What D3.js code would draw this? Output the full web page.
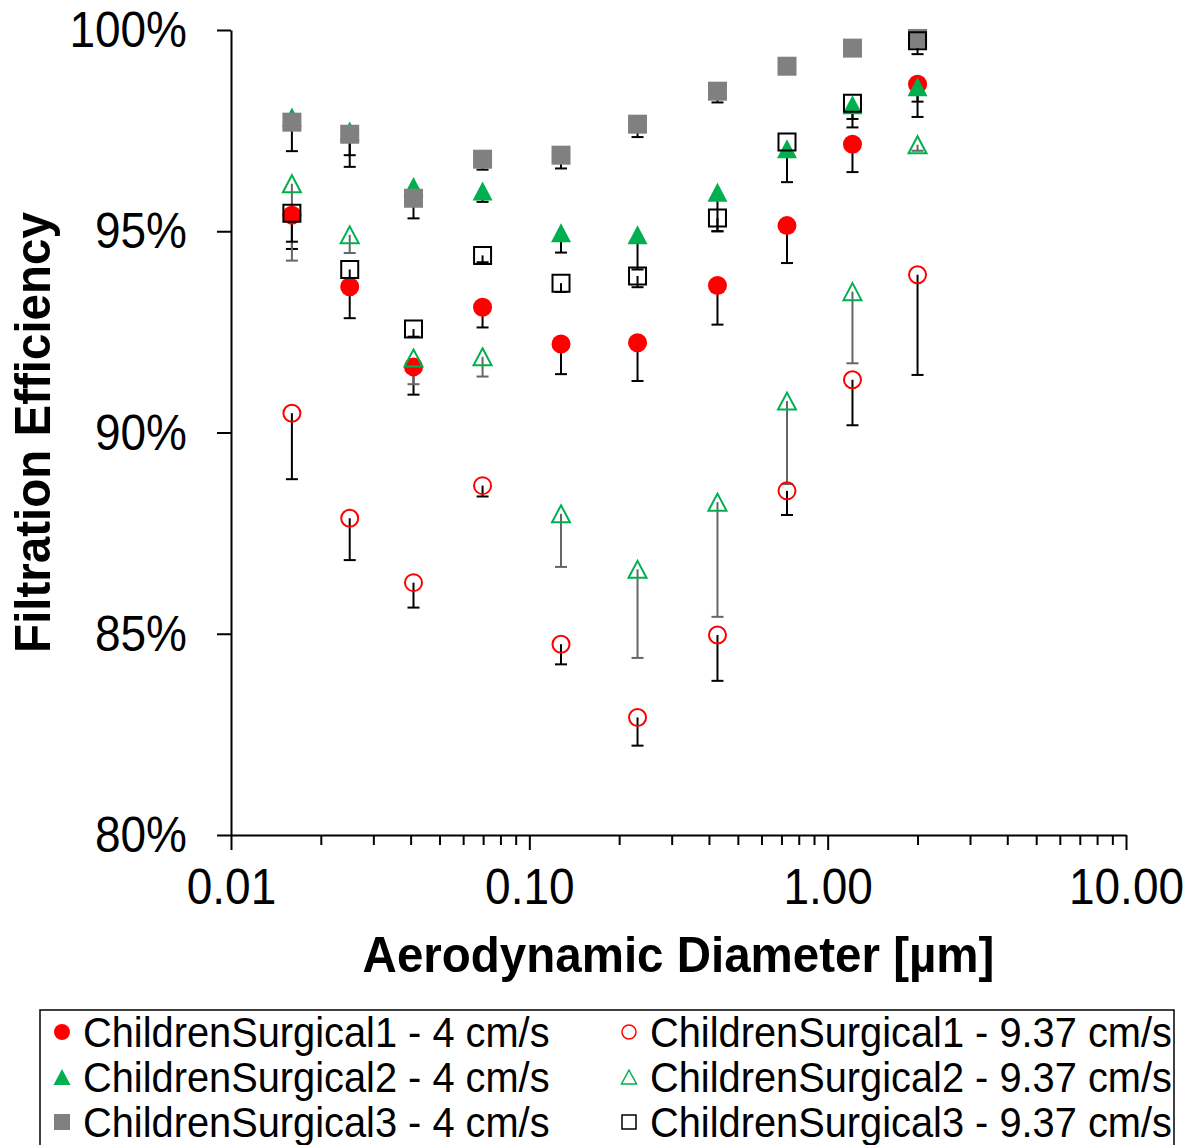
<!DOCTYPE html>
<html>
<head>
<meta charset="utf-8">
<script src="https://cdn.jsdelivr.net/npm/d3@7"></script>
<style>
    body { margin: 0; background: #fff; }
    text { font-family: 'Liberation Sans', Arial, sans-serif; }
</style>
</head>
<body>
<div id="graph"></div>
<script>
// ------- data --------

var diameters = [0.0160, 0.0250, 0.0409, 0.0697, 0.1277, 0.2305, 0.4272, 0.7306, 1.211, 2.001]

var cs1_4 = [95.40, 93.62, 91.63, 93.11, 92.20, 92.23, 93.65, 95.14, 97.16, 98.65]
var cs1_4_err = [0.84, 0.78, 0.69, 0.50, 0.75, 0.95, 0.97, 0.93, 0.69, 0.81]
var cs2_4 = [97.84, 97.49, 96.11, 96.00, 94.96, 94.91, 95.97, 97.05, 98.14, 98.59]
var cs2_4_err = [0.25, 0.60, 0.20, 0.27, 0.49, 0.86, 0.97, 0.83, 0.35, 0.37]
var cs3_4 = [97.71, 97.41, 95.82, 96.79, 96.89, 97.66, 98.48, 99.10, 99.55, 99.79]
var cs3_4_err = [0.72, 0.81, 0.50, 0.26, 0.33, 0.32, 0.28, 0.15, 0.10, 0.10]

var cs1_9 = [90.48, 87.87, 86.27, 88.68, 84.74, 82.92, 84.97, 88.55, 91.31, 93.92]
var cs1_9_err = [1.64, 1.04, 0.62, 0.27, 0.50, 0.70, 1.14, 0.60, 1.13, 2.49]
var cs2_9 = [96.18, 94.91, 91.85, 91.88, 87.98, 86.60, 88.27, 90.78, 93.50, 97.15]
var cs2_9_err = [1.91, 0.45, 0.65, 0.49, 1.32, 2.20, 2.85, 2.06, 1.78, 0.15]
var cs3_9 = [95.45, 94.05, 92.57, 94.40, 93.71, 93.89, 95.33, 97.22, 98.18, 99.73]
var cs3_9_err = [0.71, 0.30, 0.19, 0.17, 0.22, 0.28, 0.33, 0.25, 0.60, 0.33]

var yTicks = [80, 85, 90, 95, 100]
var xTicks = [0.01, 0.1, 1, 10]
var xTickLabels = ['0.01', '0.10', '1.00', '10.00']

var seriesNames = ['ChildrenSurgical1 - 4 cm/s', 'ChildrenSurgical2 - 4 cm/s', 'ChildrenSurgical3 - 4 cm/s',
    'ChildrenSurgical1 - 9.37 cm/s', 'ChildrenSurgical2 - 9.37 cm/s', 'ChildrenSurgical3 - 9.37 cm/s']

// series -> look (order = draw order)
var series = [
    {name: seriesNames[0], vals: cs1_4, err: cs1_4_err, shape: 'circle', fill: '#ff0000', stroke: 'none', bar: '#000'},
    {name: seriesNames[1], vals: cs2_4, err: cs2_4_err, shape: 'triangle', fill: '#00b050', stroke: 'none', bar: '#000'},
    {name: seriesNames[2], vals: cs3_4, err: cs3_4_err, shape: 'square', fill: '#808080', stroke: 'none', bar: '#000'},
    {name: seriesNames[3], vals: cs1_9, err: cs1_9_err, shape: 'circle', fill: 'none', stroke: '#ff0000', bar: '#000'},
    {name: seriesNames[4], vals: cs2_9, err: cs2_9_err, shape: 'triangle', fill: 'none', stroke: '#00b050', bar: '#666'},
    {name: seriesNames[5], vals: cs3_9, err: cs3_9_err, shape: 'square', fill: 'none', stroke: '#000', bar: '#000'}
]

// text in the original is a bit taller than plain Arial
var stretch = 1.07

// ------- svg --------

var width = 1197, height = 1145
var margin = {left: 231, right: 71, top: 30, bottom: 310}

var svg = d3.select('#graph').append('svg')
    .attr('width', width)
    .attr('height', height)

var x = d3.scaleLog()
    .domain([0.01, 10])
    .range([margin.left, width - margin.right])
var y = d3.scaleLinear()
    .domain([80, 100])
    .range([height - margin.bottom, margin.top])

function shapePath(shape, s) {
    var h = s / 2
    if (shape == 'circle') return d3.symbol().type(d3.symbolCircle).size(Math.PI * h * h)()
    if (shape == 'square') return 'M' + (-h) + ',' + (-h) + 'h' + s + 'v' + s + 'h' + (-s) + 'Z'
    return 'M0,' + (-h) + 'L' + (h + 0.5) + ',' + h + 'L' + (-h - 0.5) + ',' + h + 'Z'
}

// ------- axes --------

var yAxis = d3.axisLeft(y)
    .tickValues(yTicks)
    .tickSize(14)
    .tickSizeOuter(0)
    .tickPadding(30)
    .tickFormat(function(d) { return d + '%' })

var gy = svg.append('g')
    .attr('transform', 'translate(' + margin.left + ',0)')
    .call(yAxis)
gy.selectAll('text')
    .style('font-size', '46px')
    .attr('dy', '0.34em')
    .attr('fill', '#000')
    .attr('transform', 'scale(1,' + stretch + ')')

var xAxis = d3.axisBottom(x)
    .tickValues(xTicks)
    .tickSize(15)
    .tickSizeOuter(0)
    .tickPadding(17)
    .tickFormat(function(d, i) { return xTickLabels[i] })

var minorTicks = []
xTicks.slice(0, 3).forEach(function(t) {
    for (var k = 2; k < 10; k++) minorTicks.push(t * k)
})

var xMinor = d3.axisBottom(x)
    .tickValues(minorTicks)
    .tickSize(10)
    .tickSizeOuter(0)
    .tickFormat('')

var gxm = svg.append('g')
    .attr('transform', 'translate(0,' + y(80) + ')')
    .call(xMinor)
gxm.select('.domain').remove()

var gx = svg.append('g')
    .attr('transform', 'translate(0,' + y(80) + ')')
    .call(xAxis)
gx.selectAll('text')
    .style('font-size', '46px')
    .attr('fill', '#000')
    .attr('transform', 'scale(1,' + stretch + ')')

svg.selectAll('.domain, .tick line').attr('stroke', '#000').attr('stroke-width', 2)

// axis titles
svg.append('text')
    .attr('transform', 'translate(' + ((x(0.01) + x(10)) / 2) + ',972)scale(1,' + stretch + ')')
    .attr('text-anchor', 'middle')
    .style('font-size', '47.5px')
    .style('font-weight', 'bold')
    .text('Aerodynamic Diameter [µm]')

svg.append('text')
    .attr('transform', 'translate(50,' + ((y(80) + y(100)) / 2) + ')rotate(-90)scale(1,' + stretch + ')')
    .attr('text-anchor', 'middle')
    .style('font-size', '47.5px')
    .style('font-weight', 'bold')
    .text('Filtration Efficiency')

// ------- error bars (minus only) --------

var bars = svg.append('g')
series.forEach(function(s) {
    var g = bars.append('g')
    diameters.forEach(function(d, i) {
        var cx = x(d), lo = y(s.vals[i] - s.err[i])
        g.append('line')
            .attr('x1', cx).attr('x2', cx)
            .attr('y1', y(s.vals[i])).attr('y2', lo)
            .attr('stroke', s.bar).attr('stroke-width', 2)
        g.append('line')
            .attr('x1', cx - 6).attr('x2', cx + 6)
            .attr('y1', lo).attr('y2', lo)
            .attr('stroke', s.bar).attr('stroke-width', 2)
    })
})

// ------- markers --------

series.forEach(function(s) {
    var size = s.fill == 'none' ? 17 : 19
    svg.append('g')
        .selectAll('path')
        .data(s.vals)
        .enter()
        .append('path')
        .attr('d', shapePath(s.shape, size))
        .attr('transform', function(d, i) { return 'translate(' + x(diameters[i]) + ',' + y(d) + ')' })
        .attr('fill', s.fill)
        .attr('stroke', s.stroke)
        .attr('stroke-width', 2)
})

// ------- legend --------

var legend = svg.append('g')

legend.append('rect')
    .attr('x', 40).attr('y', 1010)
    .attr('width', 1134).attr('height', 150)
    .attr('fill', 'none')
    .attr('stroke', '#000')
    .attr('stroke-width', 1.5)

var item = legend.selectAll('.item')
    .data(series)
    .enter()
    .append('g')
    .attr('class', 'item')
    .attr('transform', function(d, i) {
        return 'translate(' + (i < 3 ? 62 : 629) + ',' + (1032 + (i % 3) * 45) + ')'
    })

item.append('path')
    .attr('d', function(d) { return shapePath(d.shape, d.fill == 'none' ? 14 : 16) })
    .attr('fill', function(d) { return d.fill })
    .attr('stroke', function(d) { return d.stroke })
    .attr('stroke-width', 1.5)

item.append('text')
    .attr('x', 21)
    .attr('dy', '0.35em')
    .attr('transform', 'scale(1,' + stretch + ')')
    .style('font-size', '39.8px')
    .text(function(d) { return d.name })
</script>
</body>
</html>
